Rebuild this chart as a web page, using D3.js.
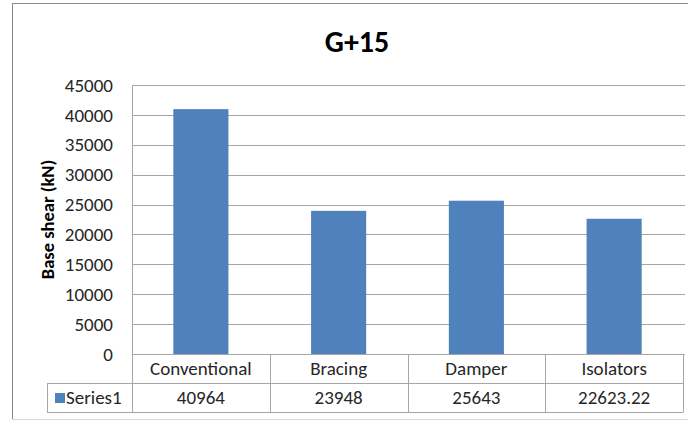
<!DOCTYPE html>
<html>
<head>
<meta charset="utf-8">
<script src="https://cdn.jsdelivr.net/npm/d3@7"></script>
<style>
  body { margin: 0; background: #fff; }
  text { font-family: Carlito, Calibri, Lato, sans-serif; fill: #262626; }
</style>
</head>
<body>
<svg id="chart" width="688" height="423"></svg>
<script>
// chart data
const categories = ["Conventional", "Bracing", "Damper", "Isolators"];
const values = [40964, 23948, 25643, 22623.22];
const valueLabels = ["40964", "23948", "25643", "22623.22"];
const seriesName = "Series1";
const yTicks = [0, 5000, 10000, 15000, 20000, 25000, 30000, 35000, 40000, 45000];
const chartTitle = "G+15";
const yTitle = "Base shear (kN)";

// layout
const plot = { left: 132, right: 683, top: 85, bottom: 354 };
const rowH = 29;
const tableLeft = 47;
const barColor = "#4f81bd";
const lineColor = "#a6a6a6";
const labelSize = "19px";

const svg = d3.select("#chart");

// outer chart frame
svg.append("line").attr("x1", 12.5).attr("x2", 12.5).attr("y1", 3).attr("y2", 420)
  .attr("stroke", "#8a8a8a");
svg.append("line").attr("x1", 12).attr("x2", 688).attr("y1", 3.5).attr("y2", 3.5)
  .attr("stroke", "#8a8a8a");
svg.append("line").attr("x1", 12).attr("x2", 688).attr("y1", 419.5).attr("y2", 419.5)
  .attr("stroke", "#d9d9d9");

// scales
const y = d3.scaleLinear().domain([0, 45000]).range([plot.bottom, plot.top]);
const cols = d3.scaleBand().domain(categories).range([plot.left, plot.right]);
const x = d3.scaleBand().domain(categories).range([plot.left, plot.right])
  .paddingInner(0.6).paddingOuter(0.3);

// gridlines
svg.append("g").selectAll("line").data(yTicks).join("line")
  .attr("x1", plot.left).attr("x2", plot.right + 2)
  .attr("y1", d => Math.round(y(d)) + 0.5).attr("y2", d => Math.round(y(d)) + 0.5)
  .attr("stroke", lineColor);

// y tick labels
svg.append("g").selectAll("text").data(yTicks).join("text")
  .attr("x", 113).attr("y", d => y(d))
  .attr("dy", "0.35em").attr("text-anchor", "end")
  .style("font-size", labelSize)
  .text(d => d);

// bars
svg.append("g").selectAll("rect").data(values).join("rect")
  .attr("x", (d, i) => x(categories[i]))
  .attr("width", x.bandwidth())
  .attr("y", d => y(d))
  .attr("height", d => y(0) - y(d))
  .attr("fill", barColor);

// data table lines
const tbl = svg.append("g").attr("stroke", lineColor).attr("fill", "none");
// plot left border running down through the table
tbl.append("line").attr("x1", plot.left + 0.5).attr("x2", plot.left + 0.5)
  .attr("y1", plot.top).attr("y2", plot.bottom + 2 * rowH);
// column separators
tbl.selectAll("line.col").data(categories).join("line").attr("class", "col")
  .attr("x1", d => Math.round(cols(d) + cols.bandwidth()) + 0.5)
  .attr("x2", d => Math.round(cols(d) + cols.bandwidth()) + 0.5)
  .attr("y1", plot.bottom).attr("y2", plot.bottom + 2 * rowH);
// row lines
tbl.append("line").attr("x1", tableLeft).attr("x2", plot.right + 0.5)
  .attr("y1", plot.bottom + rowH + 0.5).attr("y2", plot.bottom + rowH + 0.5);
tbl.append("line").attr("x1", tableLeft).attr("x2", plot.right + 0.5)
  .attr("y1", plot.bottom + 2 * rowH + 0.5).attr("y2", plot.bottom + 2 * rowH + 0.5);
tbl.append("line").attr("x1", tableLeft + 0.5).attr("x2", tableLeft + 0.5)
  .attr("y1", plot.bottom + rowH).attr("y2", plot.bottom + 2 * rowH);

// category labels
svg.append("g").selectAll("text").data(categories).join("text")
  .attr("x", d => cols(d) + cols.bandwidth() / 2)
  .attr("y", plot.bottom + rowH / 2)
  .attr("dy", "0.35em").attr("text-anchor", "middle")
  .style("font-size", labelSize)
  .text(d => d);

// value labels
svg.append("g").selectAll("text").data(valueLabels).join("text")
  .attr("x", (d, i) => cols(categories[i]) + cols.bandwidth() / 2)
  .attr("y", plot.bottom + rowH * 1.5)
  .attr("dy", "0.35em").attr("text-anchor", "middle")
  .style("font-size", labelSize)
  .text(d => d);

// legend key in the table
svg.append("rect").attr("x", 55).attr("y", 393).attr("width", 10).attr("height", 10)
  .attr("fill", barColor);
svg.append("text").attr("x", 66).attr("y", plot.bottom + rowH * 1.5)
  .attr("dy", "0.35em").style("font-size", labelSize)
  .text(seriesName);

// title
svg.append("text").attr("x", 357).attr("y", 52)
  .attr("text-anchor", "middle")
  .style("font-size", "30px").style("font-weight", "bold").style("fill", "#000")
  .text(chartTitle);

// y axis title
svg.append("text")
  .attr("transform", "translate(54," + ((plot.top + plot.bottom) / 2) + ") rotate(-90)")
  .attr("text-anchor", "middle")
  .style("font-size", "18.5px").style("font-weight", "bold").style("fill", "#000")
  .text(yTitle);
</script>
</body>
</html>
